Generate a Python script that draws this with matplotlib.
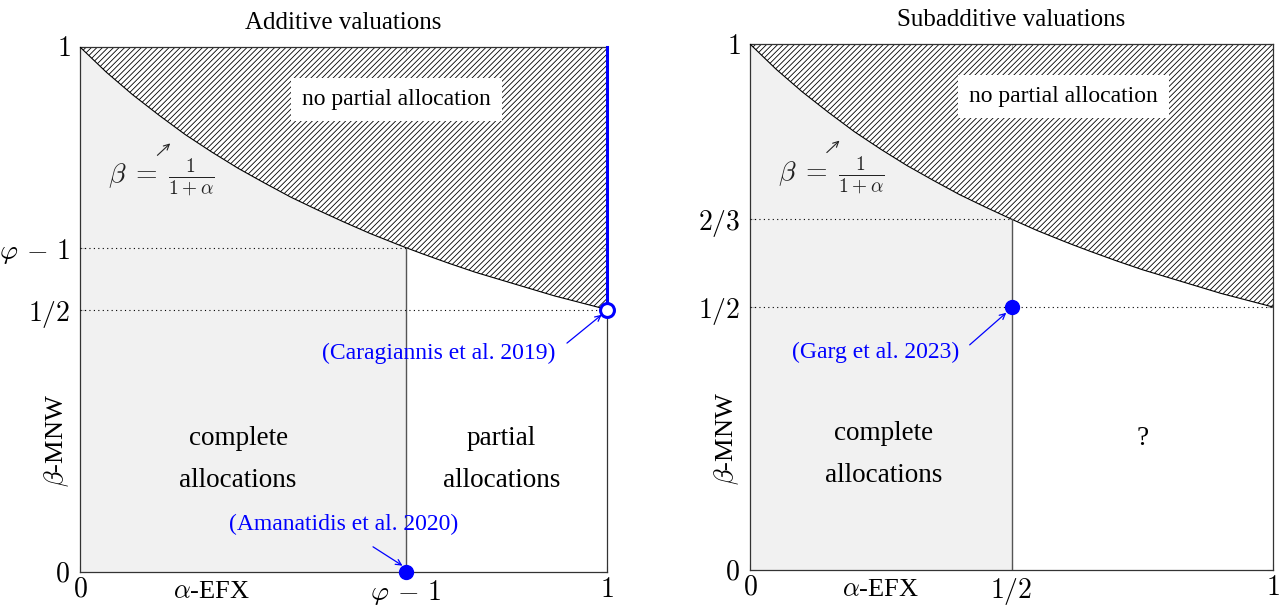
import matplotlib
matplotlib.use("Agg")
import matplotlib.pyplot as plt

plt.rcParams['font.family'] = ['Liberation Serif', 'DejaVu Serif']
plt.rcParams['mathtext.fontset'] = 'cm'
plt.rcParams['hatch.linewidth'] = 0.6

# ---- data ----
alpha_pts = [0.0, 0.05, 0.1, 0.15, 0.2, 0.25, 0.3, 0.35, 0.4, 0.45, 0.5, 0.55, 0.6,
             0.618, 0.65, 0.7, 0.75, 0.8, 0.85, 0.9, 0.95, 1.0]
beta_pts = [1.0, 0.952, 0.909, 0.870, 0.833, 0.800, 0.769, 0.741, 0.714, 0.690, 0.667,
            0.645, 0.625, 0.618, 0.606, 0.588, 0.571, 0.556, 0.541, 0.526, 0.513, 0.5]

titles = ["Additive valuations", "Subadditive valuations"]
split_x = [0.618, 0.5]                 # boundary of complete allocations
split_top = [0.618, 0.667]
xtick_vals = [[0, 0.618, 1], [0, 0.5, 1]]
xtick_labels = [[r'$0$', r'$\varphi\,-\,1$', r'$1$'], [r'$0$', r'$1/2$', r'$1$']]
ytick_vals = [[0, 0.5, 0.618, 1], [0, 0.5, 0.667, 1]]
ytick_labels = [[r'$0$', r'$1/2$', r'$\varphi\,-\,1$', r'$1$'],
                [r'$0$', r'$1/2$', r'$2/3$', r'$1$']]
right_labels = ["partial\nallocations", "?"]

BLUE = '#0000ff'
GRAY = '#f1f1f1'

fig = plt.figure(figsize=(12.85, 6.08), dpi=100)
ax1 = fig.add_axes([80/1285, 36/608, 527/1285, 525/608])
ax2 = fig.add_axes([750/1285, 38/608, 523/1285, 526/608])

for i, ax in enumerate([ax1, ax2]):
    sx, st = split_x[i], split_top[i]
    ax.set_xlim(0, 1)
    ax.set_ylim(0, 1)
    # gray region: complete allocations
    xs = [a for a in alpha_pts if a <= sx + 1e-9]
    ys = [b for a, b in zip(alpha_pts, beta_pts) if a <= sx + 1e-9]
    if xs[-1] < sx:
        xs.append(sx); ys.append(st)
    ax.fill_between(xs, 0, ys, color=GRAY, linewidth=0, zorder=1)
    # hatched region: no partial allocation
    ax.fill_between(alpha_pts, beta_pts, 1, facecolor='none', edgecolor='black',
                    hatch='//////', linewidth=0, zorder=2)
    ax.plot(alpha_pts, beta_pts, color='black', lw=0.8, zorder=3)
    # vertical boundary
    ax.plot([sx, sx], [0, st], color='#555555', lw=1.0, zorder=3)
    # dotted guides
    ax.plot([0, sx], [st, st], color='black', lw=0.8, ls=(0, (1, 3)), zorder=3)
    ax.plot([0, 1], [0.5, 0.5], color='black', lw=0.8, ls=(0, (1, 3)), zorder=3)

    for sp in ax.spines.values():
        sp.set_linewidth(0.9)
        sp.set_color('#333333')

    ax.set_xticks(xtick_vals[i])
    ax.set_xticklabels(xtick_labels[i])
    ax.set_yticks(ytick_vals[i])
    ax.set_yticklabels(ytick_labels[i])
    ax.tick_params(axis='both', direction='in', length=4, color='#bbbbbb',
                   top=True, right=True, labelsize=20)
    ax.tick_params(axis='y', pad=7)
    ax.tick_params(axis='x', pad=4)
    ax.set_title(titles[i], fontsize=18, pad=13)
    ax.set_ylabel(r'$\beta$-MNW', fontsize=19)
    ax.yaxis.set_label_coords(-0.017, 0.25)
    ax.text(0.25, -0.017, r'$\alpha$-EFX', fontsize=19, ha='center', va='top',
            transform=ax.transAxes)

    ax.text(0.6, 0.90, 'no partial allocation', fontsize=17, ha='center', va='center',
            zorder=5, bbox=dict(facecolor='white', edgecolor='none', pad=8))
    ax.text(0.155, 0.75, r'$\beta\;=\;\frac{1}{1+\alpha}$', fontsize=20, ha='center',
            va='center', color='#222222', zorder=5)
    ax.annotate('', xy=(0.175, 0.82), xytext=(0.143, 0.79),
                arrowprops=dict(arrowstyle='->', color='#222222', lw=0.8), zorder=5)

# panel-specific texts
ax1.text(0.30, 0.215, 'complete\nallocations', fontsize=19.5, ha='center', va='center',
         linespacing=1.9, zorder=5)
ax1.text(0.80, 0.215, right_labels[0], fontsize=19.5, ha='center', va='center',
         linespacing=1.9, zorder=5)
ax2.text(0.255, 0.22, 'complete\nallocations', fontsize=19.5, ha='center', va='center',
         linespacing=1.9, zorder=5)
ax2.text(0.75, 0.25, right_labels[1], fontsize=19.5, ha='center', va='center', zorder=5)

arrow_kw = dict(arrowstyle='->', color=BLUE, lw=0.9, shrinkA=0, shrinkB=0)

# blue results - additive
ax1.plot([1, 1], [0.5, 1], color=BLUE, lw=2.2, zorder=6, clip_on=False)
ax1.plot([1], [0.5], 'o', ms=10, mfc='white', mec=BLUE, mew=2.2, zorder=7, clip_on=False)
ax1.plot([0.618], [0], 'o', ms=10, color=BLUE, zorder=7, clip_on=False)
ax1.text(0.68, 0.417, '(Caragiannis et al. 2019)', fontsize=17, color=BLUE,
         ha='center', va='center', zorder=8)
ax1.annotate('', xy=(0.99, 0.49), xytext=(0.924, 0.436), arrowprops=arrow_kw, zorder=8)
ax1.text(0.50, 0.09, '(Amanatidis et al. 2020)', fontsize=17, color=BLUE,
         ha='center', va='center', zorder=8)
ax1.annotate('', xy=(0.612, 0.012), xytext=(0.556, 0.048), arrowprops=arrow_kw, zorder=8)

# blue results - subadditive
ax2.plot([0.5], [0.5], 'o', ms=10, color=BLUE, zorder=7)
ax2.text(0.24, 0.414, '(Garg et al. 2023)', fontsize=17, color=BLUE,
         ha='center', va='center', zorder=8)
ax2.annotate('', xy=(0.49, 0.489), xytext=(0.42, 0.428), arrowprops=arrow_kw, zorder=8)

fig.savefig('out.png', dpi=100)
